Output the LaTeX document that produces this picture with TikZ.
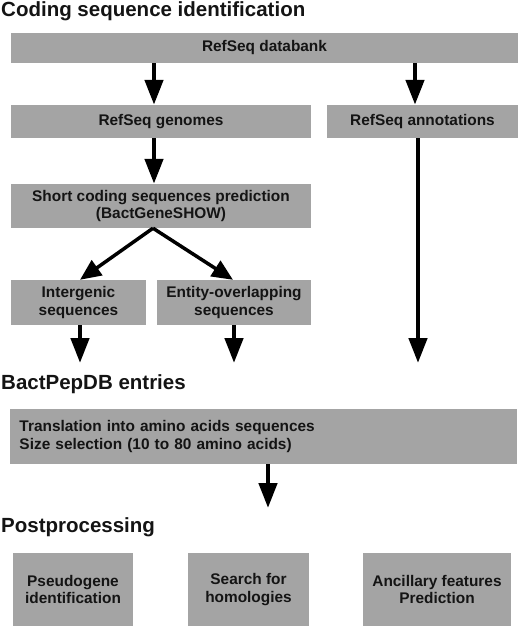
\documentclass[tikz,border=0pt]{standalone}
\usepackage{fontspec}
\setmainfont{Liberation Sans}
\usetikzlibrary{arrows.meta}
\definecolor{boxgray}{RGB}{164,164,164}
\definecolor{ink}{RGB}{20,20,20}
\begin{document}
\begin{tikzpicture}[x=1pt,y=-1pt,
  box/.style={fill=boxgray, draw=none, inner sep=0pt, align=center, text=ink,
    font=\bfseries\fontsize{15.4}{17.3}\selectfont},
  ttl/.style={anchor=base west, inner sep=0pt, text=ink,
    font=\bfseries\fontsize{20.5}{24}\selectfont},
  arr/.style={draw=black, line width=4.6pt, -{Triangle[width=18pt,length=25pt]}},
  darr/.style={draw=black, line width=3.5pt, -{Triangle[width=18pt,length=21pt]}}
]
\fill[white] (0,0) rectangle (520,628);
\useasboundingbox (0,0) rectangle (520,628);

% titles
\node[ttl] (t1) at (1,16.7) {Coding sequence identification};
\node[ttl] (t2) at (1,389) {BactPepDB entries};
\node[ttl] (t3) at (1,532.3) {Postprocessing};

% boxes
\node[box, minimum width=507pt, minimum height=30pt] (db) at (264.5,48) {RefSeq databank};
\node[box, minimum width=300pt, minimum height=33pt] (gen) at (161,121.5) {RefSeq genomes};
\node[box, minimum width=191pt, minimum height=33pt] (ann) at (422.5,121.5) {RefSeq annotations};
\node[box, minimum width=300pt, minimum height=44pt] (scs) at (161,206) {Short coding sequences prediction\\(BactGeneSHOW)};
\node[box, minimum width=135pt, minimum height=45pt] (ig) at (78.5,302.5) {Intergenic\\sequences};
\node[box, minimum width=154pt, minimum height=45pt] (eo) at (234,302.5) {Entity-overlapping\\sequences};
\node[box, align=left, inner xsep=9.5pt, text width=488pt, minimum height=55pt] (tr) at (263.5,436.5)
  {Translation into amino acids sequences\\Size selection (10 to 80 amino acids)};
\node[box, minimum width=120pt, minimum height=73pt] (pg) at (73,589.5) {Pseudogene\\identification};
\node[box, minimum width=121pt, minimum height=73pt] (sh) at (248.5,589.5) {Search for\\homologies};
\node[box, minimum width=148pt, minimum height=73pt] (af) at (437,589.5) {Ancillary features\\Prediction};

% helper coordinates
\coordinate (xa) at (154,0);
\coordinate (xb) at (415,0);
\coordinate (xc) at (418,0);
\coordinate (dtip1) at (80,280);
\coordinate (dtip2) at (233,280);
\coordinate (dsrc) at (153,0);
\coordinate (e1) at (80,363);
\coordinate (e2) at (234,363);
\coordinate (e3) at (418,363);
\coordinate (e4) at (268,508);

% connectors
\draw[arr] (db.south -| xa) -- (gen.north -| xa);
\draw[arr] (db.south -| xb) -- (ann.north -| xb);
\draw[arr] (gen.south -| xa) -- (scs.north -| xa);
\draw[arr] (ann.south -| xc) -- (e3);
\draw[darr] (scs.south -| dsrc) -- (dtip1 |- ig.north);
\draw[darr] (scs.south -| dsrc) -- (dtip2 |- eo.north);
\draw[arr] (ig.south -| e1) -- (e1);
\draw[arr] (eo.south -| e2) -- (e2);
\draw[arr] (tr.south -| e4) -- (e4);
\end{tikzpicture}
\end{document}
